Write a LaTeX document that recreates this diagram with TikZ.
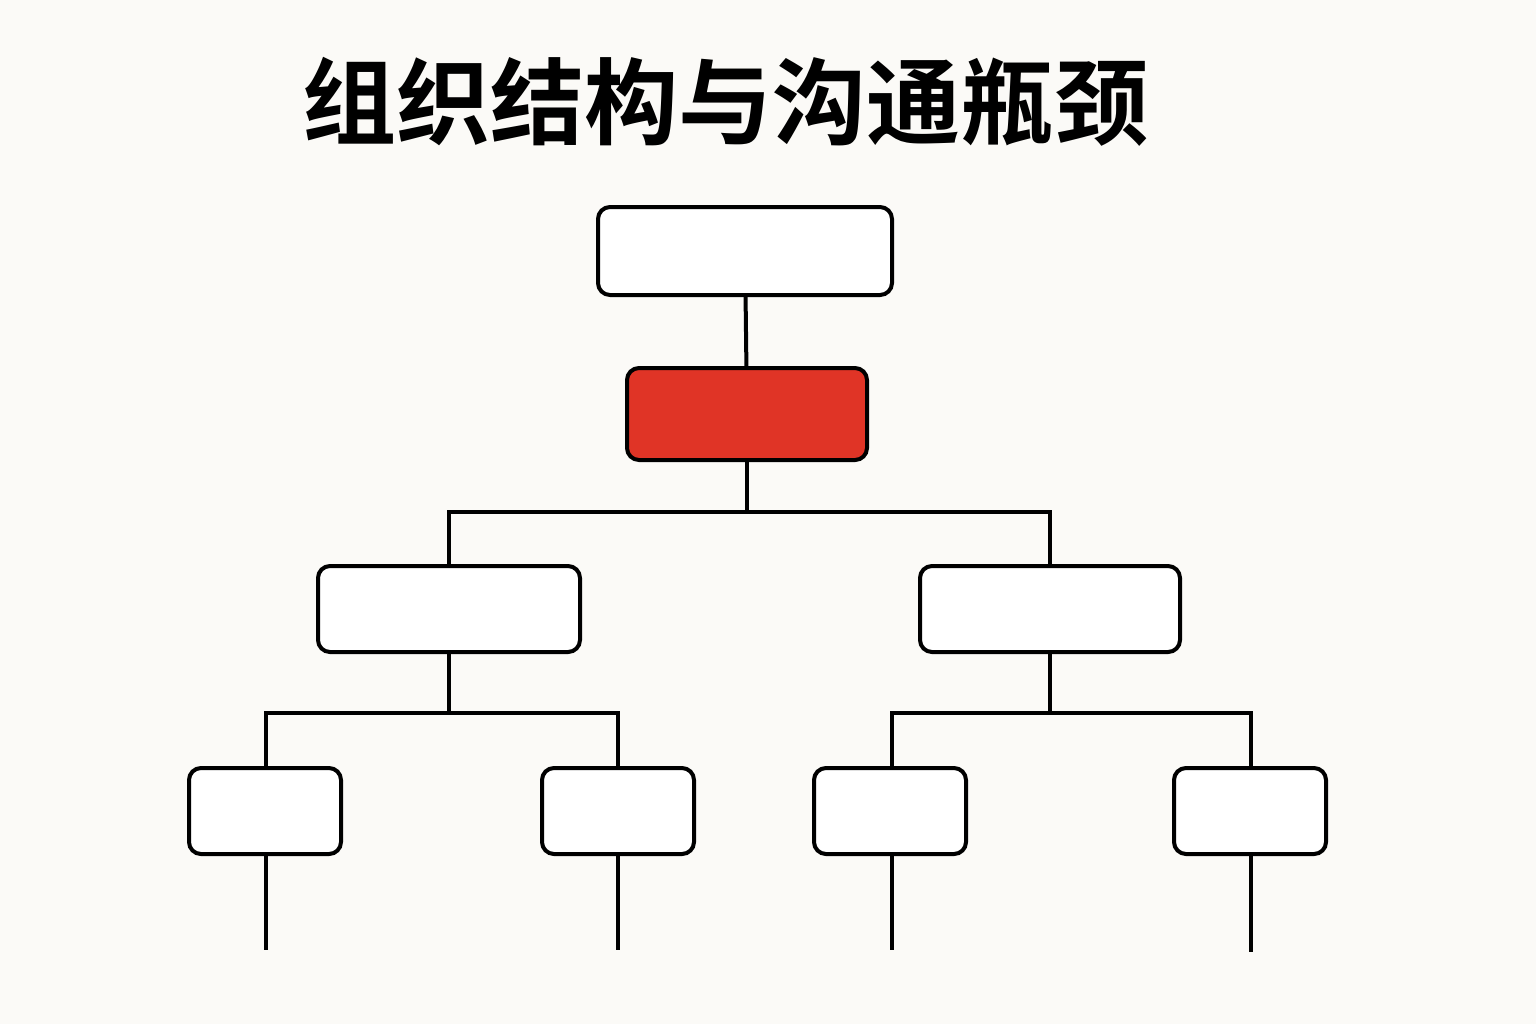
\documentclass[tikz,border=0pt]{standalone}
\usepackage{fontspec}
\newfontfamily\cjk{Noto Sans CJK SC Bold}
\definecolor{bg}{HTML}{FBFAF7}
\definecolor{hl}{HTML}{E03426}
\begin{document}
\begin{tikzpicture}[x=0.5pt,y=-0.5pt,
  box/.style={draw=black,line width=2pt,rounded corners=6pt,fill=white,inner sep=0pt},
  ln/.style={draw=black,line width=2pt}]
\fill[bg] (0,0) rectangle (1536,1024);
\useasboundingbox (0,0) rectangle (1536,1024);
\node (title) at (725,102) {\cjk\fontsize{47}{50}\selectfont 组织结构与沟通瓶颈};
\node[box,minimum width=147pt,minimum height=44pt] (top) at (745,251) {};
\node[box,fill=hl,minimum width=120pt,minimum height=46pt] (red) at (747,414) {};
\node[box,minimum width=131pt,minimum height=43pt] (ml) at (449,609) {};
\node[box,minimum width=130pt,minimum height=43pt] (mr) at (1050,609) {};
\node[box,minimum width=76pt,minimum height=43pt] (b1) at (265,811) {};
\node[box,minimum width=76pt,minimum height=43pt] (b2) at (618,811) {};
\node[box,minimum width=76pt,minimum height=43pt] (b3) at (890,811) {};
\node[box,minimum width=76pt,minimum height=43pt] (b4) at (1250,811) {};
\coordinate (j1) at (747,512);
\coordinate (j2) at (449,713);
\coordinate (j3) at (1050,713);
\coordinate (e1) at (266,950);
\coordinate (e2) at (618,950);
\coordinate (e3) at (892,950);
\coordinate (e4) at (1251,952);
\draw[ln] (top) -- (red);
\draw[ln] (red) -- (j1);
\draw[ln] (j1) -| (ml.north);
\draw[ln] (j1) -| (mr.north);
\draw[ln] (ml) -- (j2);
\draw[ln] (j2) -| (b1.north -| e1);
\draw[ln] (j2) -| (b2.north);
\draw[ln] (mr) -- (j3);
\draw[ln] (j3) -| (b3.north -| e3);
\draw[ln] (j3) -| (b4.north -| e4);
\draw[ln] (b1.south -| e1) -- (e1);
\draw[ln] (b2.south) -- (e2);
\draw[ln] (b3.south -| e3) -- (e3);
\draw[ln] (b4.south -| e4) -- (e4);
\end{tikzpicture}
\end{document}
